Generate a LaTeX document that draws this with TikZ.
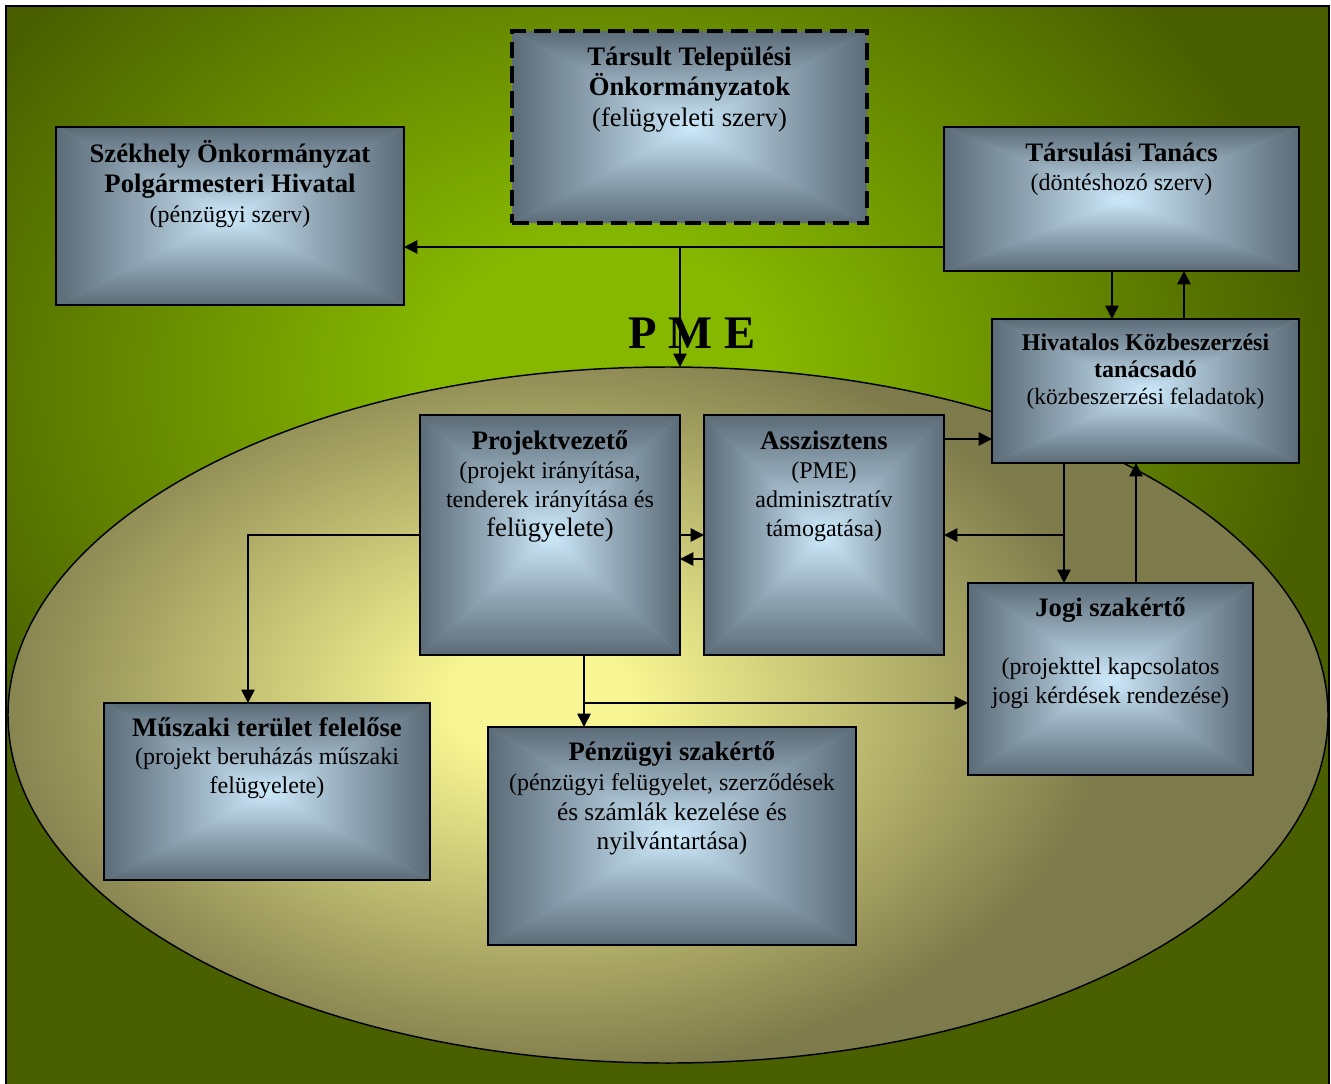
\documentclass[tikz,border=0pt]{standalone}
\usepackage{fontspec}
\setmainfont{Liberation Serif}
\usetikzlibrary{arrows.meta,fit,calc}

\definecolor{bgout}{HTML}{4A6000}
\definecolor{bgin}{HTML}{86B800}
\definecolor{elout}{HTML}{7D7A4B}
\definecolor{elin}{HTML}{F8F692}
\definecolor{bxout}{HTML}{5B6B78}
\definecolor{bxmid}{HTML}{93A8B7}
\definecolor{bxin}{HTML}{CDEAFB}

\pgfdeclareradialshading{bgshade}{\pgfpointorigin}{color(0bp)=(bgin); color(6bp)=(bgin); color(25bp)=(bgout); color(50bp)=(bgout)}
\pgfdeclareradialshading{elshade}{\pgfpointorigin}{color(0bp)=(elin); color(4bp)=(elin); color(25bp)=(elout); color(50bp)=(elout)}
% box gradients: dark at the outer edge, light at the centre
\pgfdeclarehorizontalshading{bxL}{100bp}{color(0bp)=(bxout); color(25bp)=(bxout); color(50bp)=(bxmid); color(75bp)=(bxin); color(100bp)=(bxin)}
\pgfdeclarehorizontalshading{bxR}{100bp}{color(0bp)=(bxin); color(25bp)=(bxin); color(50bp)=(bxmid); color(75bp)=(bxout); color(100bp)=(bxout)}
\pgfdeclareverticalshading{bxT}{100bp}{color(0bp)=(bxin); color(25bp)=(bxin); color(50bp)=(bxmid); color(75bp)=(bxout); color(100bp)=(bxout)}
\pgfdeclareverticalshading{bxB}{100bp}{color(0bp)=(bxout); color(25bp)=(bxout); color(50bp)=(bxmid); color(75bp)=(bxin); color(100bp)=(bxin)}

% rectangular "from centre" gradient, corners given in picture units (px)
\newcommand\boxshade[4]{%
  \pgfmathsetmacro\bsW{#3-#1}%
  \pgfmathsetmacro\bsH{#4-#2}%
  \pgfmathsetmacro\bscx{(#1+#3)/2}%
  \pgfmathsetmacro\bscy{(#2+#4)/2}%
  \pgfmathsetmacro\bsh{\bsH/2}%
  \pgfmathsetmacro\bsw{\bsW/2}%
  \pgfmathtruncatemacro\bsnx{ceil(\bsW/(0.9*\bsh))}%
  \pgfmathtruncatemacro\bsny{ceil(\bsH/(0.9*\bsw))}%
  \fill[bxmid] (#1,#2) rectangle (#3,#4);
  \begin{scope}
    \clip (#1,#2) -- (#3,#2) -- (\bscx,\bscy) -- cycle;
    \foreach \k in {0,...,\bsnx}
      \shade[shading=bxT] ({#1+0.9*\k*\bsh},#2) rectangle ({#1+0.9*\k*\bsh+\bsh},\bscy);
  \end{scope}
  \begin{scope}
    \clip (#1,#4) -- (#3,#4) -- (\bscx,\bscy) -- cycle;
    \foreach \k in {0,...,\bsnx}
      \shade[shading=bxB] ({#1+0.9*\k*\bsh},\bscy) rectangle ({#1+0.9*\k*\bsh+\bsh},#4);
  \end{scope}
  \begin{scope}
    \clip (#1,#2) -- (#1,#4) -- (\bscx,\bscy) -- cycle;
    \foreach \k in {0,...,\bsny}
      \shade[shading=bxL] (#1,{#2+0.9*\k*\bsw}) rectangle (\bscx,{#2+0.9*\k*\bsw+\bsw});
  \end{scope}
  \begin{scope}
    \clip (#3,#2) -- (#3,#4) -- (\bscx,\bscy) -- cycle;
    \foreach \k in {0,...,\bsny}
      \shade[shading=bxR] (\bscx,{#2+0.9*\k*\bsw}) rectangle (#3,{#2+0.9*\k*\bsw+\bsw});
  \end{scope}
}

\newcommand\mytopstrut{\rule{0pt}{0.95em}}
\newcommand\hdBig{\fontsize{20}{22}\selectfont\bfseries}
\newcommand\hdMid{\fontsize{18}{20}\selectfont\bfseries}
\newcommand\txMd{\fontsize{18}{20}\selectfont}
\newcommand\txLg{\fontsize{19}{20}\selectfont}
\newcommand\txBg{\fontsize{20}{20}\selectfont}

\tikzset{
  box/.style={draw=black, line width=1.1pt, inner sep=0pt, outer sep=0pt},
  dbox/.style={box, line width=2.6pt, dash pattern=on 12.5pt off 6pt},
  txt/.style={align=center, anchor=north, inner sep=0pt, outer sep=0pt,
    font=\fontsize{16}{#1}\selectfont},
  conn/.style={line width=1.1pt, -{Triangle[length=10pt,width=10pt]}},
}

\begin{document}
\begin{tikzpicture}[x=0.75pt, y=-0.75pt]
\useasboundingbox (0,0) rectangle (1331,1083);
\clip (0,0) rectangle (1331,1083);
\fill[white] (0,0) rectangle (1331,1083);

% background frame
\begin{scope}
  \clip (6,6) rectangle (1329,1100);
  \fill[bgout] (6,6) rectangle (1329,1100);
  \shade[shading=bgshade] (600,380) ellipse [x radius=540pt, y radius=430pt];
\end{scope}
\draw[line width=1.5pt] (6,6) rectangle (1329,1100);

% PME ellipse
\begin{scope}
  \clip (668,715) ellipse [x radius=495pt, y radius=261pt];
  \fill[elout] (0,300) rectangle (1331,1083);
  \shade[shading=elshade] (540,700) ellipse [x radius=430pt, y radius=285pt];
\end{scope}
\draw[line width=1.1pt] (668,715) ellipse [x radius=495pt, y radius=261pt];
\coordinate (elN) at (668,367);

% boxes
\boxshade{512}{31}{867}{223}
\node[dbox, fit={(512,31) (867,223)}] (ts) {};
\boxshade{56}{127}{404}{305}
\node[box, fit={(56,127) (404,305)}] (sz) {};
\boxshade{944}{127}{1299}{271}
\node[box, fit={(944,127) (1299,271)}] (tt) {};
\boxshade{992}{319}{1299}{463}
\node[box, fit={(992,319) (1299,463)}] (hk) {};
\boxshade{420}{415}{680}{655}
\node[box, fit={(420,415) (680,655)}] (pv) {};
\boxshade{704}{415}{944}{655}
\node[box, fit={(704,415) (944,655)}] (as) {};
\boxshade{968}{583}{1253}{775}
\node[box, fit={(968,583) (1253,775)}] (jg) {};
\boxshade{104}{703}{430}{880}
\node[box, fit={(104,703) (430,880)}] (mu) {};
\boxshade{488}{727}{856}{945}
\node[box, fit={(488,727) (856,945)}] (pe) {};

% helper coordinates
\coordinate (h1) at (680,247);
\coordinate (x1) at (1112,0);
\coordinate (x2) at (1184,0);
\coordinate (r1) at (0,439);
\coordinate (j1) at (1064,535);
\coordinate (j2) at (1136,0);
\coordinate (y2) at (0,559);
\coordinate (m1) at (248,535);
\coordinate (p1) at (584,703);

% connectors
\draw[conn] (tt.west |- h1) -- (sz.east |- h1);
\draw[conn] (h1) -- (h1 |- elN);
\draw[conn] (tt.south -| x1) -- (hk.north -| x1);
\draw[conn] (hk.north -| x2) -- (tt.south -| x2);
\draw[conn] (as.east |- r1) -- (hk.west |- r1);
\draw[conn] (hk.south -| j1) -- (jg.north -| j1);
\draw[conn] (j1) -- (as.east |- j1);
\draw[conn] (jg.north -| j2) -- (hk.south -| j2);
\draw[conn] (pv.east |- j1) -- (as.west |- j1);
\draw[conn] (as.west |- y2) -- (pv.east |- y2);
\draw[conn] (pv.west |- m1) -- (m1) -- (mu.north -| m1);
\draw[conn] (pv.south -| p1) -- (pe.north -| p1);
\draw[conn] (p1) -- (jg.west |- p1);

% PME title
\node[font=\fontsize{35}{40}\selectfont\bfseries, inner sep=0pt] (pme) at (692,333) {P M E};

% texts
\node[txt=22.9pt] (ts-t) at (689.5,39.7) {{\hdBig\mytopstrut Társult Települési}\\{\hdBig Önkormányzatok}\\{\txBg (felügyeleti szerv)}};
\node[txt=22.5pt] (sz-t) at (230,136.7) {{\hdBig\mytopstrut Székhely Önkormányzat}\\{\hdBig Polgármesteri Hivatal}\\{\txMd (pénzügyi szerv)}};
\node[txt=21.75pt] (tt-t) at (1121.5,135.7) {{\hdBig\mytopstrut Társulási Tanács}\\{\txMd (döntéshozó szerv)}};
\node[txt=20.25pt] (hk-t) at (1145.5,327.2) {{\hdMid\mytopstrut Hivatalos Közbeszerzési}\\{\hdMid tanácsadó}\\{\fontsize{17.5}{20}\selectfont (közbeszerzési feladatok)}};
\node[txt=21.75pt] (pv-t) at (550,424) {{\hdBig\mytopstrut Projektvezető}\\{\txMd (projekt irányítása,}\\{\txMd tenderek irányítása és}\\{\txBg felügyelete)}};
\node[txt=21.75pt] (as-t) at (824,424) {{\hdBig\mytopstrut Asszisztens}\\{\txMd (PME)}\\{\txMd adminisztratív}\\{\txMd támogatása)}};
\node[txt=21.75pt] (jg-t) at (1110.5,590.7) {{\hdBig\mytopstrut Jogi szakértő}\\[22pt]{\txMd (projekttel kapcsolatos}\\{\txMd jogi kérdések rendezése)}};
\node[txt=21.4pt] (mu-t) at (267,710.7) {{\hdBig\mytopstrut Műszaki terület felelőse}\\{\txMd (projekt beruházás műszaki}\\{\txMd felügyelete)}};
\node[txt=22.3pt] (pe-t) at (672,735.4) {{\hdBig\mytopstrut Pénzügyi szakértő}\\{\txMd (pénzügyi felügyelet, szerződések}\\{\txLg és számlák kezelése és}\\{\txLg nyilvántartása)}};
\end{tikzpicture}
\end{document}
